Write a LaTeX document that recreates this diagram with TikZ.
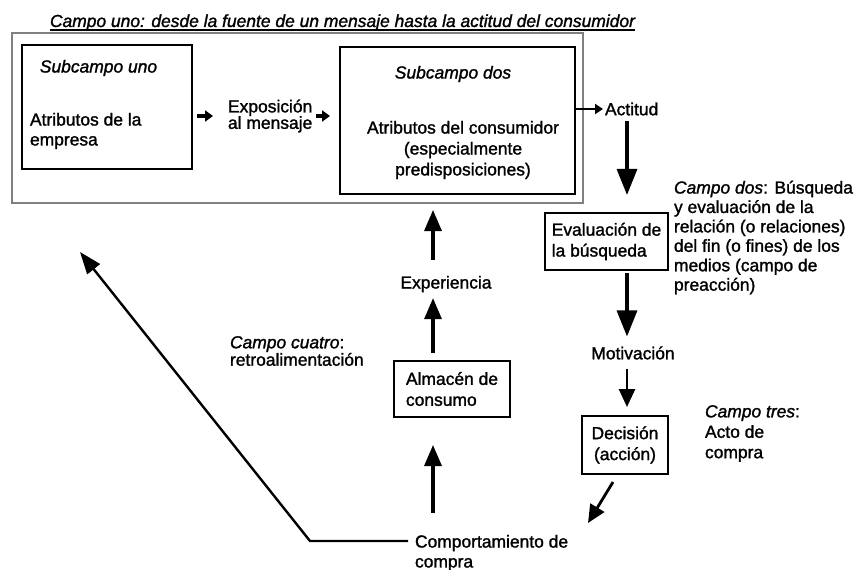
\documentclass[tikz,border=0pt]{standalone}
\usepackage{fontspec}
\setmainfont{Liberation Sans}[FakeBold=1.4]
\usetikzlibrary{arrows.meta}
\begin{document}
\begin{tikzpicture}[x=1bp,y=-1bp,
  fs/.style={font=\fontsize{17.5}{#1}\selectfont},
  txt/.style={inner sep=0pt, outer sep=0pt, fs=20},
  box/.style={draw, line width=1.6bp, inner sep=0pt, outer sep=0pt},
  bigarrow/.style={line width=3.2bp, -{Triangle[length=26bp,width=20bp]}},
  midarrow/.style={line width=3.2bp, -{Triangle[length=21bp,width=17bp]}},
  smallmid/.style={line width=2.8bp, -{Triangle[length=18bp,width=16bp]}},
  tinyarrow/.style={line width=3.5bp, -{Triangle[length=8bp,width=11bp]}},
  thinarrow/.style={line width=1.8bp, -{Triangle[length=8bp,width=10bp]}},
  fbarrow/.style={line width=2.4bp, -{Triangle[length=22bp,width=16bp]}}
]
\useasboundingbox (0,0) rectangle (854,570);

% title
\node[txt, anchor=base, font=\fontsize{17.5}{20}\selectfont\itshape] (title) at (342.5,27)
  {Campo uno: desde la fuente de un mensaje hasta la actitud del consumidor};
\draw[line width=1.2bp] ([yshift=-3bp]title.base west) -- ([yshift=-3bp]title.base east);

% outer frame
\node[draw=black!50, line width=1.1bp, inner sep=0pt, outer sep=0pt,
      minimum width=571bp, minimum height=170bp] (outer) at (297.5,118) {};

% subcampo uno
\node[box, minimum width=170bp, minimum height=124bp] (sub1) at (107,107) {};
\node[txt, font=\fontsize{17.5}{20}\selectfont\itshape] (sub1t) at (98.5,68) {Subcampo uno};
\node[txt, align=left, anchor=west] (attr1) at (30,131) {Atributos de la\\empresa};

% exposicion
\node[txt, fs=16.5, align=left, anchor=west] (expo) at (228,116) {Exposición\\al mensaje};

% subcampo dos
\node[box, minimum width=235bp, minimum height=147bp] (sub2) at (457.5,120.5) {};
\node[txt, font=\fontsize{17.5}{20}\selectfont\itshape] (sub2t) at (453,74) {Subcampo dos};
\node[txt, fs=21, align=center] (attr2) at (463,150) {Atributos del consumidor\\(especialmente\\predisposiciones)};

% actitud
\node[txt, anchor=west] (actitud) at (605,109) {Actitud};

% campo dos
\node[box, line width=1.4bp, minimum width=123bp, minimum height=57bp, align=left, fs=21]
  (eval) at (606.5,241.5) {Evaluación de\\la búsqueda};
\node[txt, fs=19.5, align=left, anchor=west] (campodos) at (674,237.5)
  {\textit{Campo dos}: Búsqueda\\y evaluación de la\\relación (o relaciones)\\del fin (o fines) de los\\medios (campo de\\preacción)};

\node[txt] (motiv) at (633,353) {Motivación};

% campo tres
\node[box, line width=1.4bp, minimum width=86bp, minimum height=58bp, align=center, fs=21]
  (dec) at (625,445) {Decisión\\(acción)};
\node[txt, fs=20.5, align=left, anchor=west] (campotres) at (705,433.5)
  {\textit{Campo tres}:\\Acto de\\compra};

% comportamiento
\node[txt, align=left, anchor=west] (comp) at (415,553) {Comportamiento de\\compra};

% almacen / experiencia
\node[box, line width=1.4bp, minimum width=116bp, minimum height=56bp, align=left, fs=21]
  (alm) at (452,389) {Almacén de\\consumo};
\node[txt] (exp) at (446,284) {Experiencia};

% campo cuatro
\node[txt, fs=16.5, align=left, anchor=west] (campocuatro) at (230,351)
  {\textit{Campo cuatro}:\\retroalimentación};

% helper coordinates
\coordinate (colA) at (627,0);
\coordinate (colB) at (433,0);
\coordinate (fbcorner) at (310,541);
\coordinate (fbend) at (80,252);
\coordinate (decout) at (613,482);
\coordinate (decin) at (588,523);

% connectors
\draw[tinyarrow, shorten <=5bp, shorten >=15bp] (sub1.east |- expo.west) -- (expo.west);
\draw[tinyarrow, shorten <=4bp, shorten >=10bp] (expo.east) -- (sub2.west |- expo.east);
\draw[thinarrow, shorten >=2bp] (sub2.east |- actitud.west) -- (actitud.west);
\draw[bigarrow, shorten <=6bp, shorten >=18bp] (actitud.south -| colA) -- (eval.north -| colA);
\draw[bigarrow, shorten <=3bp, shorten >=10bp] (eval.south -| colA) -- (motiv.north -| colA);
\draw[smallmid, shorten <=9bp, shorten >=9bp] (motiv.south -| colA) -- (dec.north -| colA);
\draw[smallmid] (decout) -- (decin);
\draw[midarrow, shorten <=22bp, shorten >=28bp] (comp.north -| colB) -- (alm.south -| colB);
\draw[midarrow, shorten <=8bp, shorten >=6bp] (alm.north -| colB) -- (exp.south -| colB);
\draw[midarrow, shorten <=16bp, shorten >=7bp] (exp.north -| colB) -- (outer.south -| colB);
\draw[fbarrow, line join=miter] ([xshift=-7bp]comp.west |- fbcorner) -- (fbcorner) -- (fbend);
\end{tikzpicture}
\end{document}
